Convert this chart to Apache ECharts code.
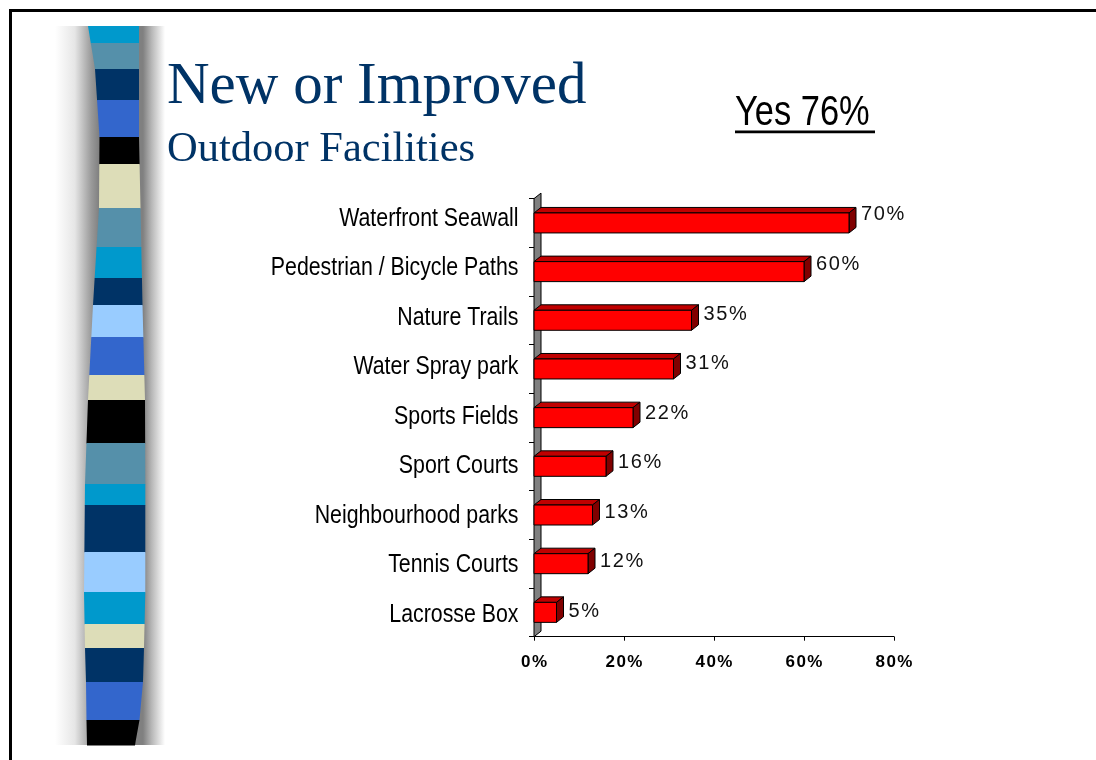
<!DOCTYPE html>
<html>
<head>
<meta charset="utf-8">
<title>New or Improved Outdoor Facilities</title>
<script src="https://cdn.jsdelivr.net/npm/echarts@6/dist/echarts.min.js"></script>
<style>
  html, body { margin: 0; padding: 0; background: #ffffff; }
  #chart { width: 1096px; height: 760px; }
</style>
</head>
<body>
<div id="chart"></div>
<script>
// Survey results: share of "yes" respondents wanting each outdoor facility
const categories = [
  'Waterfront Seawall',
  'Pedestrian / Bicycle Paths',
  'Nature Trails',
  'Water Spray park',
  'Sports Fields',
  'Sport Courts',
  'Neighbourhood parks',
  'Tennis Courts',
  'Lacrosse Box'
];
const shares = [70, 60, 35, 31, 22, 16, 13, 12, 5];
const axisTicks = [0, 20, 40, 60, 80];
const titleText = 'New or Improved';
const subtitleText = 'Outdoor Facilities';
const yesText = 'Yes 76%';

// Decorative ribbon bands (colours, top to bottom)
const ribbonColors = [
  '#0099cc', '#5590aa', '#003366', '#3366cc', '#000000', '#ddddb8',
  '#5590aa', '#0099cc', '#003366', '#99ccff', '#3366cc', '#ddddb8',
  '#000000', '#5590aa', '#0099cc', '#003366', '#99ccff', '#0099cc',
  '#ddddb8', '#003366', '#3366cc', '#000000'
];
const ribbonStops = [26, 43, 69, 100, 137, 164, 208, 247, 278, 305, 337, 375,
  400, 443, 484, 505, 552, 592, 624, 648, 682, 720, 745];

// ribbon outline: [y, leftX, rightX]
const ribbonEdge = [
  [26, 88, 139], [69, 95, 139], [137, 99.5, 139], [208, 99, 140.5],
  [305, 93, 142.5], [400, 88, 145], [484, 85, 145.3], [592, 84, 145.3],
  [648, 85, 144], [682, 86, 143], [720, 86.5, 139.5], [745, 87, 135]
];

function edgeAt(y, col) {
  for (let i = 0; i < ribbonEdge.length - 1; i++) {
    const a = ribbonEdge[i], b = ribbonEdge[i + 1];
    if (y >= a[0] && y <= b[0]) {
      const t = (y - a[0]) / (b[0] - a[0]);
      return a[col] + (b[col] - a[col]) * t;
    }
  }
  return ribbonEdge[ribbonEdge.length - 1][col];
}

function ribbonBand(y0, y1, color) {
  const pts = [];
  const steps = 6;
  for (let s = 0; s <= steps; s++) {
    const y = y0 + (y1 - y0) * s / steps;
    pts.push([edgeAt(y, 1), y]);
  }
  for (let s = steps; s >= 0; s--) {
    const y = y0 + (y1 - y0) * s / steps;
    pts.push([edgeAt(y, 2), y]);
  }
  return { type: 'polygon', shape: { points: pts }, style: { fill: color }, z: 2 };
}

const spaced = (s, gap) => s.split('').join(gap);
const pct = v => v + '%';

const DEPTH_X = 7;
const DEPTH_Y = 5.5;
const BAR_H = 20;
const NARROW = 0.82;      // horizontal squeeze giving a condensed sans look
const LABEL_DRIFT = 0.85; // perspective drift of text rows against the bar rows

const chart = echarts.init(document.getElementById('chart'), null, { renderer: 'canvas' });

const graphics = [
  // slide frame
  { type: 'rect', shape: { x: 9, y: 9, width: 1087, height: 3 }, style: { fill: '#000' }, z: 1 },
  { type: 'rect', shape: { x: 9, y: 9, width: 3, height: 751 }, style: { fill: '#000' }, z: 1 },
  // ribbon shadow
  {
    type: 'rect', shape: { x: 55, y: 26, width: 110, height: 719 }, z: 1,
    style: {
      fill: new echarts.graphic.LinearGradient(0, 0, 1, 0, [
        { offset: 0, color: '#ffffff' },
        { offset: 0.18, color: '#e6e6e6' },
        { offset: 0.33, color: '#9a9a9a' },
        { offset: 0.40, color: '#808080' },
        { offset: 0.80, color: '#808080' },
        { offset: 0.88, color: '#b8b8b8' },
        { offset: 1, color: '#ffffff' }
      ])
    }
  },
  // headings
  {
    type: 'text', x: 167, y: 87, z: 5,
    style: { text: titleText, font: '59px "Liberation Serif", "Times New Roman", serif', fill: '#003366', verticalAlign: 'middle' }
  },
  {
    type: 'text', x: 167, y: 150, z: 5,
    style: { text: subtitleText, font: '42.5px "Liberation Serif", "Times New Roman", serif', fill: '#003366', verticalAlign: 'middle' }
  },
  {
    type: 'text', x: 735, y: 113, z: 5, scaleX: NARROW,
    style: { text: yesText, font: '42px "Liberation Sans", Arial, sans-serif', fill: '#000', verticalAlign: 'middle' }
  },
  { type: 'rect', shape: { x: 735, y: 130.5, width: 140, height: 2.8 }, style: { fill: '#000' }, z: 5 }
];
for (let i = 0; i < ribbonColors.length; i++) {
  graphics.push(ribbonBand(ribbonStops[i], ribbonStops[i + 1] + 0.6, ribbonColors[i]));
}

const option = {
  animation: false,
  backgroundColor: '#ffffff',
  grid: { left: 534, right: 202, top: 198.6, bottom: 123.3 },
  xAxis: {
    type: 'value',
    min: axisTicks[0],
    max: axisTicks[axisTicks.length - 1],
    interval: axisTicks[1] - axisTicks[0],
    axisLine: { show: true, lineStyle: { color: '#000', width: 1 } },
    axisTick: { show: true, length: 4, lineStyle: { color: '#000' } },
    splitLine: { show: false },
    axisLabel: {
      margin: 17,
      color: '#000',
      fontFamily: '"Liberation Sans", Arial, sans-serif',
      fontWeight: 'bold',
      fontSize: 17,
      formatter: v => spaced(pct(v), '\u200A')
    }
  },
  yAxis: {
    type: 'category',
    inverse: true,
    data: categories,
    axisLine: { show: true, lineStyle: { color: '#000', width: 1 } },
    axisTick: { show: true, length: 5, lineStyle: { color: '#000' } },
    // category names are drawn by the bar series in a condensed face
    axisLabel: { show: false }
  },
  series: [
    {
      // left back wall of the 3D plot
      type: 'custom',
      z: 1,
      data: [[0, 0]],
      renderItem: (params) => {
        const cs = params.coordSys;
        return {
          type: 'polygon',
          shape: {
            points: [
              [cs.x, cs.y + cs.height],
              [cs.x, cs.y],
              [cs.x + DEPTH_X, cs.y - DEPTH_Y],
              [cs.x + DEPTH_X, cs.y + cs.height - DEPTH_Y]
            ]
          },
          style: { fill: '#808080', stroke: '#000', lineWidth: 1 }
        };
      },
      silent: true
    },
    {
      type: 'custom',
      z: 3,
      encode: { x: 0, y: 1 },
      data: shares.map((v, i) => [v, i]),
      renderItem: (params, api) => {
        const v = api.value(0);
        const idx = api.value(1);
        const start = api.coord([0, idx]);
        const end = api.coord([v, idx]);
        const x0 = start[0], x1 = end[0];
        const yTop = end[1] - BAR_H / 2, yBot = end[1] + BAR_H / 2;
        const drift = LABEL_DRIFT * idx;
        return {
          type: 'group',
          children: [
            {
              type: 'polygon',
              shape: { points: [[x0, yTop], [x0 + DEPTH_X, yTop - DEPTH_Y], [x1 + DEPTH_X, yTop - DEPTH_Y], [x1, yTop]] },
              style: { fill: '#c00000', stroke: '#000', lineWidth: 1 }
            },
            {
              type: 'polygon',
              shape: { points: [[x1, yTop], [x1 + DEPTH_X, yTop - DEPTH_Y], [x1 + DEPTH_X, yBot - DEPTH_Y], [x1, yBot]] },
              style: { fill: '#800000', stroke: '#000', lineWidth: 1 }
            },
            {
              type: 'rect',
              shape: { x: x0, y: yTop, width: x1 - x0, height: BAR_H },
              style: { fill: '#ff0000', stroke: '#000', lineWidth: 1 }
            },
            {
              type: 'text',
              x: x1 + 12, y: end[1] - 8 + drift,
              style: {
                text: spaced(pct(v), '\u200A'),
                font: '20px "Liberation Sans", Arial, sans-serif',
                fill: '#111',
                verticalAlign: 'middle'
              }
            },
            {
              type: 'text',
              x: x0 - 15.5, y: end[1] - 4.5 + drift, scaleX: NARROW,
              style: {
                text: categories[idx],
                font: '26px "Liberation Sans", Arial, sans-serif',
                fill: '#000',
                align: 'right',
                verticalAlign: 'middle'
              }
            }
          ]
        };
      }
    }
  ],
  graphic: graphics
};

chart.setOption(option);
</script>
</body>
</html>
